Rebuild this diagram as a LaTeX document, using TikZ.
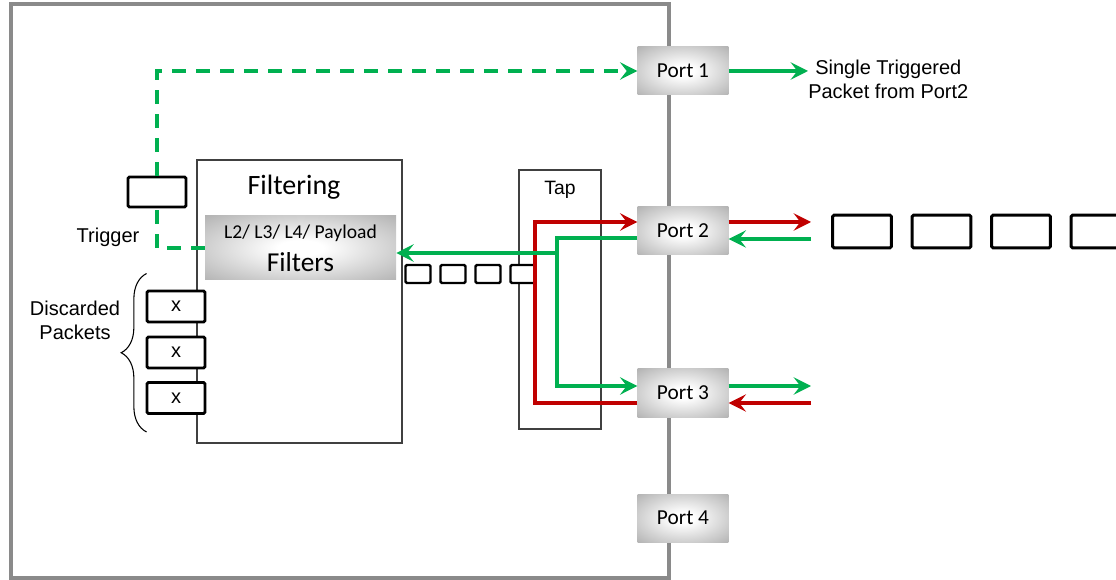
\documentclass[tikz,border=0pt]{standalone}
\usepackage{fontspec}
\setmainfont{Liberation Sans}
\newfontfamily\calibri{Carlito}
\usetikzlibrary{arrows.meta, positioning, calc, decorations.pathreplacing}
\definecolor{pktgreen}{HTML}{00B050}
\definecolor{pktred}{HTML}{C00000}
\definecolor{framegray}{HTML}{8A8A8A}
\definecolor{boxgray}{HTML}{404040}
\pgfdeclareradialshading{portshade}{\pgfpoint{0bp}{0bp}}{%
  color(0bp)=(white); color(6bp)=(white); color(50bp)=(black!44); color(71bp)=(black!52)}

\begin{document}
\begin{tikzpicture}[x=0.75pt, y=-0.75pt,
    font=\fontsize{15}{18}\selectfont,
    port/.style={shading=portshade, minimum width=68pt, minimum height=36pt,
                 inner sep=0pt, font=\calibri\fontsize{16}{18}\selectfont},
    pkt/.style={draw=black, line width=2.2pt, rounded corners=1pt, fill=white,
                minimum width=44pt, minimum height=24.5pt, inner sep=0pt},
    minipkt/.style={pkt, line width=1.8pt, minimum width=18.75pt, minimum height=13.5pt},
    unitbox/.style={draw=boxgray, line width=1pt, inner sep=0pt},
    flow/.style={line width=2.8pt, -{Stealth[length=13pt, width=13pt, inset=5pt]}}]
  \useasboundingbox (0,0) rectangle (1116,580);
  % switch chassis
  \draw[framegray, line width=2.8pt] (11,4) rectangle (669,578);
  % filtering and tap blocks
  \node[unitbox, minimum width=153.75pt, minimum height=212.25pt] (filtering) at (299.5,301.5) {};
  \node[anchor=base, font=\calibri\fontsize{21}{25}\selectfont] (filttitle) at (294,195) {Filtering};
  \node[shading=portshade, minimum width=143.25pt, minimum height=48pt, inner sep=0pt,
        align=center, font=\calibri\fontsize{20.5}{24.75}\selectfont] (filters) at (300.5,248)
        {{\fontsize{14.7}{17}\selectfont L2/ L3/ L4/ Payload}\\Filters};
  \node[unitbox, minimum width=61.5pt, minimum height=194.25pt] (tap) at (560,299.5) {};
  \node[anchor=base, font=\fontsize{14.5}{17}\selectfont] (taptitle) at (560,195) {Tap};
  % ports
  \foreach \n/\y in {1/71, 2/231, 3/393, 4/518}
    \node[port] (p\n) at (683,\y) {Port \n};
  % packets
  \foreach \i in {0,...,3}
    \node[pkt] (wire\i) at (862+79.5*\i,231.5) {};
  \foreach \i in {0,...,3}
    \node[minipkt] (q\i) at (418+35*\i,274) {};
  \foreach \i/\y in {1/306.5, 2/352.5, 3/398}
    \node[pkt, minimum width=43.5pt, minimum height=23.25pt] (d\i) at (176,\y) {x};
  \node[pkt, minimum width=43.5pt, minimum height=22.5pt] (trig) at (157,192) {};
  % labels
  \node (trigtxt) at (108,237) {Trigger};
  \node[align=center] (discard) at (75,320) {Discarded\\Packets};
  \node[anchor=west, align=center, inner sep=0pt] (single) at (808,79) {Single Triggered\\Packet from Port2};
  \draw[decorate, decoration={brace, amplitude=19pt}, line width=0.8pt]
    ($(d3.south west)+(1,17)$) -- ($(d1.north west)+(1,-16)$);
  % tap paths
  \coordinate (redx) at (535,300);
  \coordinate (grnx) at (557,300);
  \coordinate (copy) at (557,253);
  \draw[flow, pktred] ($(p3.west)+(0,10)$) -| (redx) |- ($(p2.west)+(0,-9)$);
  \draw[flow, pktgreen] ($(p2.west)+(0,7)$) -| (grnx) |- ($(p3.west)+(0,-7)$);
  \draw[flow, pktgreen] (copy) -- (copy -| filters.east);
  % outside links
  \coordinate (r2) at (811,231);
  \coordinate (r3) at (811,393);
  \draw[flow, pktred] ($(p2.east)+(0,-9)$) -- ($(r2)+(0,-9)$);
  \draw[flow, pktgreen] ($(r2)+(0,8)$) -- ($(p2.east)+(0,8)$);
  \draw[flow, pktgreen] ($(p3.east)+(0,-7)$) -- ($(r3)+(0,-7)$);
  \draw[flow, pktred] ($(r3)+(0,10)$) -- ($(p3.east)+(0,10)$);
  % trigger
  \draw[pktgreen, line width=2.8pt, dash pattern=on 10pt off 8pt] (filters.west) -| (trig.south);
  \draw[flow, pktgreen, dash pattern=on 10pt off 8pt] (trig.north) |- (p1.west);
  \draw[flow, pktgreen] (p1.east) -- (p1.east -| single.west);
\end{tikzpicture}
\end{document}
